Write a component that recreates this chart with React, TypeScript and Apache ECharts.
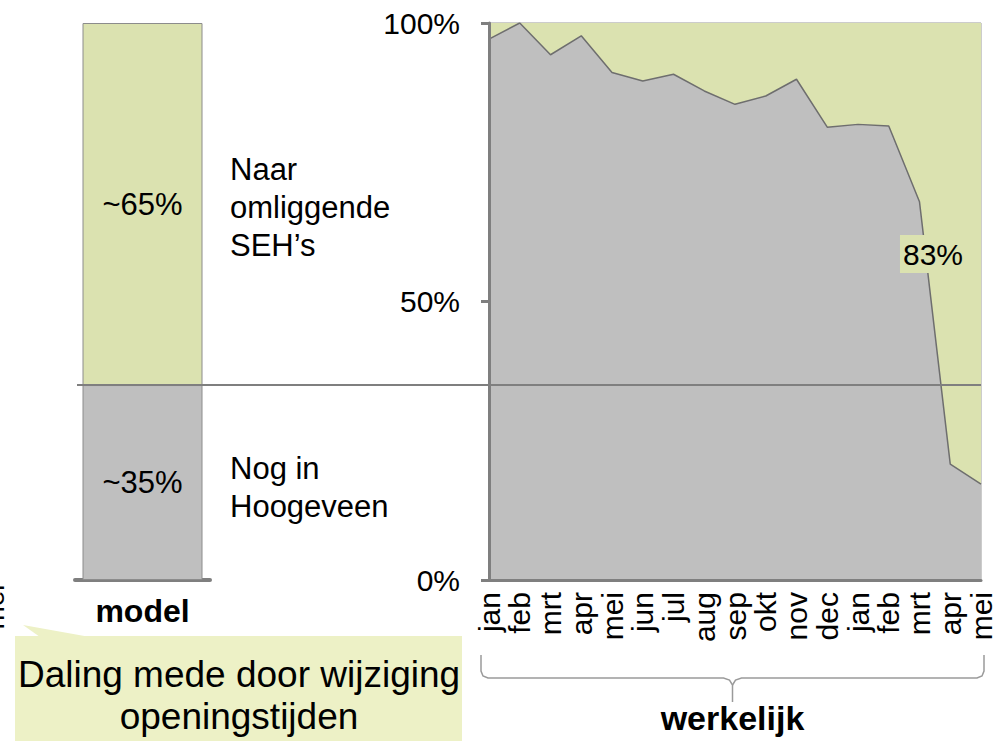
import React, { useEffect, useRef } from "react";
import * as echarts from "echarts";

// ---- data ----
const months = ["jan", "feb", "mrt", "apr", "mei", "jun", "jul", "aug", "sep", "okt", "nov", "dec", "jan", "feb", "mrt", "apr", "mei"];
const stillInHoogeveen = [97.1, 100, 94.3, 97.7, 91.1, 89.6, 90.8, 87.8, 85.4, 86.9, 89.9, 81.3, 81.8, 81.5, 67.9, 20.8, 17.2];
const modelCategory = ["model"];
const modelInHoogeveen = [35];
const modelElsewhere = [65];
const yTicks = [0, 50, 100];
const dropLabel = "83%";
const sideLabelTop = "Naar\nomliggende\nSEH\u2019s";
const sideLabelBottom = "Nog in\nHoogeveen";
const calloutText = "Daling mede door wijziging\nopeningstijden";
const bracketLabel = "werkelijk";

const FONT = "'Liberation Sans', Arial, Helvetica, sans-serif";
const GREEN = "#dbe2b0";
const GRAY = "#bfbfbf";
const AXIS = "#7f7f7f";

export default function App() {
  const ref = useRef<HTMLDivElement>(null);

  useEffect(() => {
    document.body.style.margin = "0";
    if (!ref.current) return;
    const chart = echarts.init(ref.current, null, { renderer: "svg" });
    const elsewhere = stillInHoogeveen.map((v) => 100 - v);

    chart.setOption({
      animation: false,
      textStyle: { fontFamily: FONT },
      grid: [
        { left: 75, width: 135, top: 23, bottom: 161, show: false },
        {
          left: 489, right: 27, top: 23, bottom: 161, show: true,
          borderColor: "#999", borderWidth: 1, backgroundColor: "transparent",
        },
      ],
      xAxis: [
        {
          gridIndex: 0, type: "category", data: modelCategory,
          axisLine: { lineStyle: { color: AXIS, width: 4 } },
          axisTick: { show: false },
          axisLabel: { fontSize: 32, fontWeight: "bold", color: "#000", margin: 15, fontFamily: FONT },
        },
        {
          gridIndex: 1, type: "category", data: months, boundaryGap: false, z: 10,
          axisLine: { lineStyle: { color: AXIS, width: 3 } },
          axisTick: { show: false },
          axisLabel: { rotate: 90, interval: 0, fontSize: 30, color: "#000", margin: 12, fontFamily: FONT },
        },
      ],
      yAxis: [
        {
          gridIndex: 0, type: "value", min: yTicks[0], max: yTicks[yTicks.length - 1],
          interval: yTicks[1] - yTicks[0], show: false,
        },
        {
          gridIndex: 1, type: "value", min: yTicks[0], max: yTicks[yTicks.length - 1],
          interval: yTicks[1] - yTicks[0], z: 10,
          splitLine: { show: false },
          axisLine: { show: true, lineStyle: { color: AXIS, width: 3 } },
          axisTick: { show: true, length: 8, lineStyle: { color: AXIS, width: 3 } },
          axisLabel: { formatter: "{value}%", fontSize: 30, color: "#000", margin: 29, fontFamily: FONT },
        },
      ],
      series: [
        {
          name: "Nog in Hoogeveen (model)", type: "bar", xAxisIndex: 0, yAxisIndex: 0,
          stack: "model", barWidth: 120, data: modelInHoogeveen,
          itemStyle: { color: GRAY, borderColor: "#8c8c8c", borderWidth: 1 },
          label: { show: true, position: "inside", formatter: "~{c}%", fontSize: 31, color: "#000", fontFamily: FONT },
        },
        {
          name: "Naar omliggende SEH's (model)", type: "bar", xAxisIndex: 0, yAxisIndex: 0,
          stack: "model", barWidth: 120, data: modelElsewhere,
          itemStyle: { color: GREEN, borderColor: "#8c8c8c", borderWidth: 1 },
          label: { show: true, position: "inside", formatter: "~{c}%", fontSize: 31, color: "#000", fontFamily: FONT },
        },
        {
          name: "Nog in Hoogeveen", type: "line", xAxisIndex: 1, yAxisIndex: 1,
          stack: "real", data: stillInHoogeveen, symbol: "none", z: 3,
          lineStyle: { color: "#6e6e6e", width: 1.5 },
          areaStyle: { color: GRAY, opacity: 1 },
        },
        {
          name: "Naar omliggende SEH's", type: "line", xAxisIndex: 1, yAxisIndex: 1,
          stack: "real", data: elsewhere, symbol: "none", z: 2,
          lineStyle: { width: 0 },
          areaStyle: { color: GREEN, opacity: 1 },
        },
      ],
    });

    const y35 = chart.convertToPixel({ yAxisIndex: 1 }, modelInHoogeveen[0]) as number;
    const xEnd = chart.convertToPixel({ xAxisIndex: 1 }, months.length - 1) as number;
    const xStart = chart.convertToPixel({ xAxisIndex: 1 }, 0) as number;
    const bL = xStart - 8;
    const bR = xEnd + 3;
    const bM = (bL + bR) / 2;
    const bTop = 655;
    const bY = 678;
    const braceStyle = { stroke: "#9a9a9a", lineWidth: 1.5, fill: null };

    chart.setOption({
      graphic: [
        {
          type: "line", z: 50,
          shape: { x1: 77, y1: y35, x2: xEnd, y2: y35 },
          style: { stroke: AXIS, lineWidth: 2 },
        },
        {
          type: "text", left: 230, top: 150,
          style: { text: sideLabelTop, font: `31px ${FONT}`, fill: "#000", lineHeight: 38 },
        },
        {
          type: "text", left: 230, top: 449,
          style: { text: sideLabelBottom, font: `31px ${FONT}`, fill: "#000", lineHeight: 38 },
        },
        {
          type: "text", x: 933, y: 254, z: 60,
          style: {
            text: dropLabel, font: `30px ${FONT}`, fill: "#000", align: "center", verticalAlign: "middle",
            backgroundColor: GREEN, padding: [4, 3, 4, 3],
          },
        },
        {
          type: "polyline", z: 40,
          shape: { points: [[bL, bTop], [bL, bY - 7], [bL + 2, bY - 2], [bL + 7, bY], [bM - 9, bY], [bM - 3, bY + 2], [bM, bY + 7], [bM, bY + 24]] },
          style: braceStyle,
        },
        {
          type: "polyline", z: 40,
          shape: { points: [[bR, bTop], [bR, bY - 7], [bR - 2, bY - 2], [bR - 7, bY], [bM + 9, bY], [bM + 3, bY + 2], [bM, bY + 7]] },
          style: braceStyle,
        },
        {
          type: "text", x: bM, y: 718,
          style: { text: bracketLabel, font: `bold 34px ${FONT}`, fill: "#000", align: "center", verticalAlign: "middle" },
        },
        {
          type: "polygon", z: 30,
          shape: { points: [[23, 625], [40, 637], [90, 637]] },
          style: { fill: "#edf1c6" },
        },
        {
          type: "rect", z: 30,
          shape: { x: 15, y: 636, width: 447, height: 105 },
          style: { fill: "#edf1c6" },
        },
        {
          type: "text", x: 239, y: 695, z: 31,
          style: {
            text: calloutText, font: `37px ${FONT}`, fill: "#000", align: "center", verticalAlign: "middle",
            lineHeight: 42,
          },
        },
        {
          type: "text", x: -6, y: 607, rotation: Math.PI / 2,
          style: { text: "mei", font: `28px ${FONT}`, fill: "#000", align: "center", verticalAlign: "middle" },
        },
      ],
    });

    return () => chart.dispose();
  }, []);

  return <div ref={ref} style={{ width: 1008, height: 741, position: "absolute", left: 0, top: 0 }} />;
}
